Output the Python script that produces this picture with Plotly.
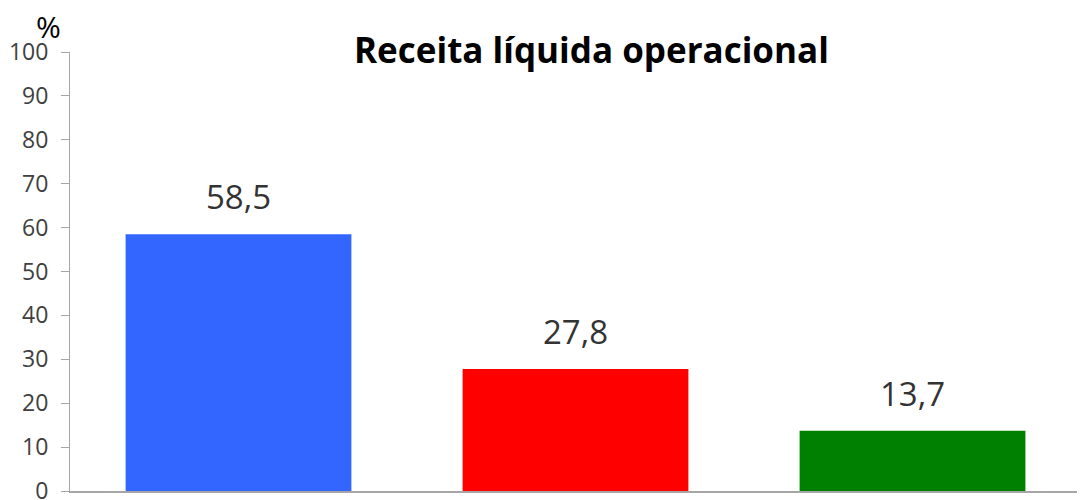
import plotly.graph_objects as go

# Receita líquida operacional - participação por segmento (%)
categories = ["A", "B", "C"]
values = [58.5, 27.8, 13.7]
bar_colors = ["#3366FF", "#FF0000", "#008000"]
y_ticks = [0, 10, 20, 30, 40, 50, 60, 70, 80, 90, 100]

FONT = "Open Sans"

fig = go.Figure()
fig.add_trace(go.Bar(
    x=categories, y=values,
    marker=dict(color=bar_colors, line=dict(width=0)),
    showlegend=False, hoverinfo="skip",
))

# value labels floated above each bar
for cat, val in zip(categories, values):
    fig.add_annotation(
        x=cat, y=val, text=f"{val:.1f}".replace(".", ","),
        showarrow=False, yanchor="bottom", yshift=13,
        font=dict(family=FONT, size=33, color="#333333"),
    )

fig.add_annotation(
    text="<b>Receita líquida operacional</b>",
    xref="paper", yref="paper", x=0.516, y=1.006,
    xanchor="center", yanchor="middle", showarrow=False,
    font=dict(family=FONT, size=35, color="#000000"),
)
fig.add_annotation(
    text="%", xref="paper", yref="paper", x=-0.0208, y=1.0585,
    xanchor="center", yanchor="middle", showarrow=False,
    font=dict(family=FONT, size=30, color="#000000"),
)

# page body adds an 8px offset, so the figure is sized to fit the window
fig.update_layout(
    width=1077, height=492,
    margin=dict(l=62, r=4, t=44, b=9),
    paper_bgcolor="white", plot_bgcolor="white",
    bargap=0.33,
    separators=",.",
    font=dict(family=FONT),
)
fig.update_xaxes(
    showticklabels=False, showgrid=False, zeroline=False, automargin=False,
    showline=True, linecolor="#A6A6A6", linewidth=2,
)
fig.update_yaxes(
    range=[0, 100], tickvals=y_ticks, showgrid=False, zeroline=False,
    automargin=False, ticklabeloverflow="allow",
    showline=True, linecolor="#A6A6A6", linewidth=1,
    ticks="outside", ticklen=8, tickcolor="#A6A6A6", ticklabelstandoff=8,
    tickfont=dict(family=FONT, size=23, color="#404040"),
)

fig.write_html("out.html")
